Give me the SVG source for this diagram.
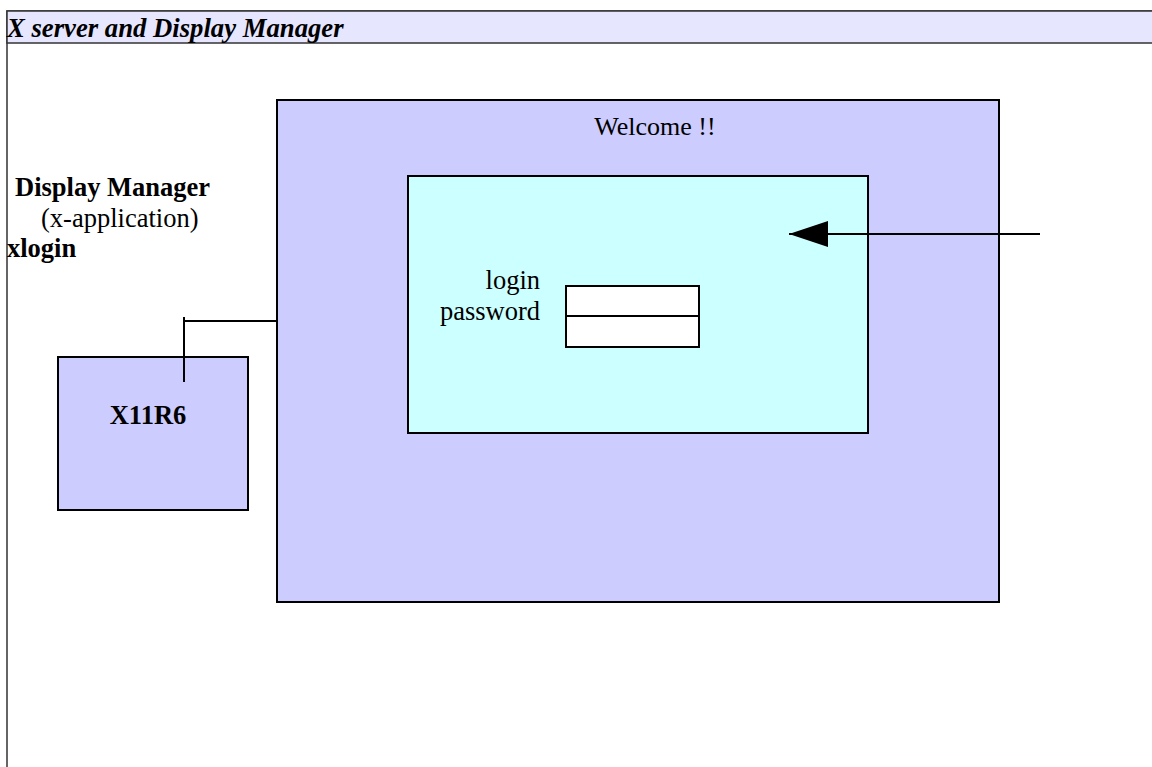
<svg xmlns="http://www.w3.org/2000/svg" width="1152" height="767" viewBox="0 0 1152 767">
<defs>
<style>
text{font-family:"Liberation Serif","Times New Roman",serif;fill:#000;font-size:26.5px}
.b{font-weight:bold}
.box{stroke:#000;stroke-width:2}
.ln{stroke:#000;stroke-width:2;fill:none}
</style>
<marker id="ah" markerWidth="40" markerHeight="28" refX="39" refY="13" orient="auto" markerUnits="userSpaceOnUse">
<path d="M0,0 L39,13 L0,26 Z" fill="#000"/>
</marker>
</defs>
<rect width="1152" height="767" fill="#fff"/>
<g id="frame">
<rect x="7" y="11" width="1160" height="780" fill="#fff" stroke="#333" stroke-width="1.5"/>
<rect x="7" y="11" width="1160" height="32" fill="#e6e6ff" stroke="#333" stroke-width="1.5"/>
<text x="7" y="37" style="font-size:26.7px" font-weight="bold" font-style="italic">X server and Display Manager</text>
</g>
<g id="label-dm">
<text x="15" y="196" class="b">Display Manager</text>
<text x="41" y="227">(x-application)</text>
<text x="7" y="257" class="b">xlogin</text>
</g>
<g id="screen">
<rect x="277" y="100" width="722" height="502" fill="#ccccff" class="box"/>
<text x="655" y="135" style="font-size:26px" text-anchor="middle">Welcome !!</text>
</g>
<g id="dialog">
<rect x="408" y="176" width="460" height="257" fill="#ccffff" class="box"/>
<text x="540" y="289" text-anchor="end">login</text>
<text x="540" y="320" text-anchor="end">password</text>
<rect x="566" y="286" width="133" height="30" fill="#fff" class="box"/>
<rect x="566" y="316" width="133" height="31" fill="#fff" class="box"/>
</g>
<g id="x11r6">
<rect x="58" y="357" width="190" height="153" fill="#ccccff" class="box"/>
<text x="148" y="424" class="b" text-anchor="middle">X11R6</text>
</g>
<g id="connectors">
<path class="ln" d="M277,321 H184 M184,317 V382"/>
<path class="ln" d="M1040,234 H789" marker-end="url(#ah)"/>
</g>
</svg>
